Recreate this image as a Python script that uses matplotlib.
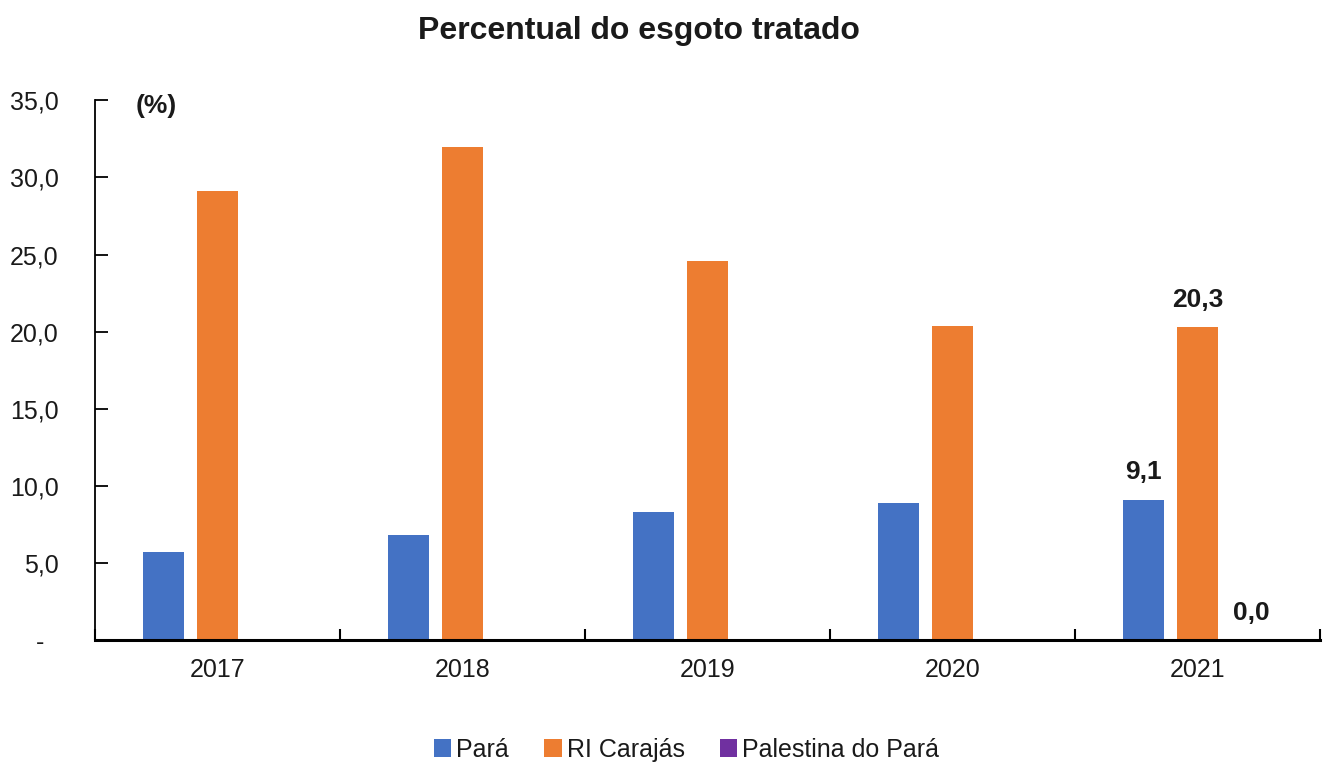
import matplotlib
matplotlib.use("Agg")
import matplotlib.pyplot as plt
from matplotlib.ticker import FixedLocator
import numpy as np

years = ["2017", "2018", "2019", "2020", "2021"]
para = [5.7, 6.8, 8.3, 8.9, 9.1]
carajas = [29.1, 32.0, 24.6, 20.4, 20.3]
palestina = [0.0, 0.0, 0.0, 0.0, 0.0]
series_names = ["Pará", "RI Carajás", "Palestina do Pará"]
yticks = [0, 5, 10, 15, 20, 25, 30, 35]
ytick_labels = ["-  ", "5,0", "10,0", "15,0", "20,0", "25,0", "30,0", "35,0"]

colors = ["#4472C4", "#ED7D31", "#7030A0"]
FONT = ["Liberation Sans", "DejaVu Sans"]
plt.rcParams["font.family"] = FONT
TXT = "#1a1a1a"

fig = plt.figure(figsize=(13.28, 7.65), dpi=100)
ax = fig.add_axes([0.0715, 0.163, 0.9225, 0.706])

x = np.arange(len(years))
w = 0.17
off = 0.22
for i, (vals, name) in enumerate(zip([para, carajas, palestina], series_names)):
    ax.bar(x + (i - 1) * off, vals, width=w, color=colors[i], label=name)

ax.set_xlim(-0.5, len(years) - 0.5)
ax.set_ylim(0, 35)
ax.set_yticks(yticks)
ax.set_yticklabels(ytick_labels, fontsize=18, color=TXT)
ax.set_xticks(x)
ax.set_xticklabels(years, fontsize=18, color=TXT)
ax.xaxis.set_minor_locator(FixedLocator(np.arange(-0.5, len(years), 1.0)))
ax.tick_params(axis="x", which="major", length=0, pad=13)
ax.tick_params(axis="x", which="minor", direction="in", length=8, width=1.5)
ax.tick_params(axis="y", direction="in", length=9, width=1.3, pad=26)
for s in ["top", "right"]:
    ax.spines[s].set_visible(False)
ax.spines["left"].set_linewidth(1.3)
ax.spines["bottom"].set_linewidth(2.2)

# data labels for 2021
last = len(years) - 1
ax.text(x[last] - off, para[last] + 1.0, "9,1", ha="center", va="bottom",
        fontsize=19, fontweight="bold", color=TXT)
ax.text(x[last], carajas[last] + 1.0, "20,3", ha="center", va="bottom",
        fontsize=19, fontweight="bold", color=TXT)
ax.text(x[last] + off, palestina[last] + 1.0, "0,0", ha="center", va="bottom",
        fontsize=19, fontweight="bold", color=TXT)

ax.text(0.033, 34.6, "(%)", transform=ax.get_yaxis_transform(),
        fontsize=19, fontweight="bold", va="center", ha="left", color=TXT)

fig.text(0.481, 0.96, "Percentual do esgoto tratado", ha="center", va="center",
         fontsize=23, fontweight="bold", color=TXT)

leg = fig.legend(loc="center", bbox_to_anchor=(0.517, 0.02), ncol=3, frameon=False,
                 fontsize=18, handlelength=0.7, handleheight=0.7, handletextpad=0.2,
                 columnspacing=1.4)
for t in leg.get_texts():
    t.set_color(TXT)

fig.savefig("out.png", dpi=100)
